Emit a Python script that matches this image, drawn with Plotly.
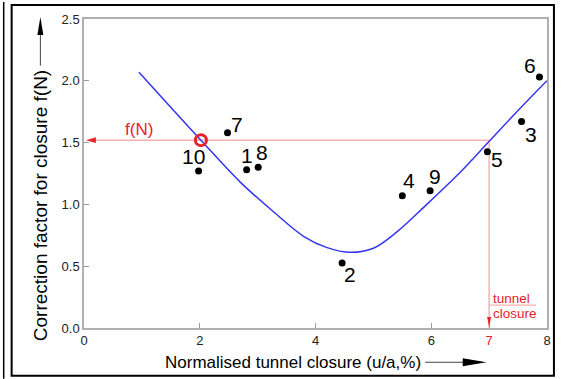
import plotly.graph_objects as go

# ---- data ----
point_ids = ["1", "2", "3", "4", "5", "6", "7", "8", "9", "10"]
point_x = [2.81, 4.46, 7.56, 5.50, 6.97, 7.87, 2.48, 3.01, 5.98, 1.98]
point_y = [1.28, 0.525, 1.67, 1.07, 1.425, 2.03, 1.58, 1.30, 1.11, 1.27]

curve_x = [0.95, 2.0, 2.7, 3.3, 3.8, 4.2, 4.6, 5.0, 5.4, 5.9, 6.5, 7.0, 7.5, 8.0]
curve_y = [2.07, 1.53, 1.18, 0.93, 0.74, 0.65, 0.612, 0.645, 0.775, 0.99, 1.26, 1.51, 1.76, 2.0]

closure_value = 7.0
fN_value = 1.52
fN_marker_x = 2.02

x_tickvals = [0, 2, 4, 6, 7, 8]
x_ticktext = ["0", "2", "4", "6", '<span style="color:#e8222a">7</span>', "8"]
y_tickvals = [0, 0.5, 1.0, 1.5, 2.0, 2.5]

# label offsets in pixels (dx right, dy down)
label_offsets = {
    "1": (0, -14), "2": (8, 11), "3": (9, 13), "4": (7, -15), "5": (10, 8),
    "6": (-9, -12), "7": (9, -8), "8": (4, -15), "9": (5, -14), "10": (-5, -15),
}

W, H = 563, 379
L, R, T, B = 84, 12, 17, 51
PW, PH = W - L - R, H - T - B
XR = (0, 8)
YR = (0, 2.5)


def px(x):  # pixel x -> paper
    return (x - L) / PW


def py(y):  # pixel y -> paper
    return (H - B - y) / PH


def dx(v):  # data x -> pixel x
    return L + (v - XR[0]) / (XR[1] - XR[0]) * PW


def dy(v):  # data y -> pixel y
    return H - B - (v - YR[0]) / (YR[1] - YR[0]) * PH


FONT = "Liberation Sans, Arial, sans-serif"
RED = "#e8222a"
PINK = "#ffb0b0"

fig = go.Figure()

fig.add_trace(go.Scatter(
    x=curve_x, y=curve_y, mode="lines", line=dict(color="#3535f0", width=1.5, shape="spline", smoothing=1.0),
    hoverinfo="skip", showlegend=False))

fig.add_trace(go.Scatter(
    x=point_x, y=point_y, mode="markers", marker=dict(color="black", size=7),
    showlegend=False))

fig.add_trace(go.Scatter(
    x=[fN_marker_x], y=[fN_value], mode="markers",
    marker=dict(symbol="circle-open", color=RED, size=11, line=dict(width=3, color=RED)),
    showlegend=False))

shapes = []
# outer border
shapes.append(dict(type="rect", xref="paper", yref="paper", x0=px(11), x1=px(558), y0=py(376), y1=py(3),
                   line=dict(color="black", width=2), layer="above"))
# left partial panel edge
shapes.append(dict(type="line", xref="paper", yref="paper", x0=px(3), x1=px(3), y0=py(379), y1=py(0),
                   line=dict(color="black", width=1.5)))
# f(N) horizontal line
shapes.append(dict(type="line", xref="x", yref="y", x0=(95 - L) / PW * 8, x1=closure_value, y0=fN_value, y1=fN_value,
                   line=dict(color=PINK, width=1.5), layer="below"))
# left arrow head
ypf = dy(fN_value)
shapes.append(dict(type="path", xref="paper", yref="paper",
                   path=f"M {px(86)} {py(ypf)} L {px(96)} {py(ypf-2.8)} L {px(96)} {py(ypf+2.8)} Z",
                   fillcolor=RED, line=dict(width=0)))
# vertical closure line
shapes.append(dict(type="line", xref="x", yref="y", x0=closure_value, x1=closure_value, y0=0, y1=fN_value,
                   line=dict(color=PINK, width=1.5), layer="below"))
xpc = dx(closure_value)
shapes.append(dict(type="path", xref="paper", yref="paper",
                   path=f"M {px(xpc)} {py(327)} L {px(xpc-2)} {py(317)} L {px(xpc+2)} {py(317)} Z",
                   fillcolor=RED, line=dict(width=0)))
# separator line between 'tunnel' and 'closure'
shapes.append(dict(type="line", xref="paper", yref="paper", x0=px(xpc), x1=px(540), y0=py(305), y1=py(305),
                   line=dict(color=PINK, width=1.2)))
# y title arrow
shapes.append(dict(type="line", xref="paper", yref="paper", x0=px(40), x1=px(40), y0=py(64), y1=py(32),
                   line=dict(color="#444", width=1)))
shapes.append(dict(type="path", xref="paper", yref="paper",
                   path=f"M {px(40)} {py(15)} L {px(37)} {py(33)} L {px(43)} {py(33)} Z",
                   fillcolor="black", line=dict(width=0)))
# x title arrow
shapes.append(dict(type="line", xref="paper", yref="paper", x0=px(428), x1=px(467), y0=py(362.5), y1=py(362.5),
                   line=dict(color="#444", width=1)))
shapes.append(dict(type="path", xref="paper", yref="paper",
                   path=f"M {px(490)} {py(362.5)} L {px(466)} {py(358.5)} L {px(466)} {py(366.5)} Z",
                   fillcolor="black", line=dict(width=0)))

annotations = []
for pid, x, y in zip(point_ids, point_x, point_y):
    ox, oy = label_offsets[pid]
    annotations.append(dict(x=x, y=y, xref="x", yref="y", text=pid, showarrow=False,
                            xanchor="center", yanchor="middle",
                            xshift=ox, yshift=-oy, font=dict(family=FONT, size=21, color="black")))


def txt(xp, yp, text, size, color, **kw):
    d = dict(x=px(xp), y=py(yp), xref="paper", yref="paper", text=text, showarrow=False,
             xanchor="center", yanchor="middle", font=dict(family=FONT, size=size, color=color))
    d.update(kw)
    annotations.append(d)


txt(40, 205, "Correction factor for closure f(N)", 19, "black", textangle=-90)
txt(295, 363, "Normalised tunnel closure (u/a,%)", 17, "black")
txt(139, 128, "f(N)", 17, RED)
txt(495, 298, "tunnel", 13.5, RED, xanchor="left")
txt(495, 313.5, "closure", 13.5, RED, xanchor="left")

fig.update_layout(
    width=W, height=H, margin=dict(l=L, r=R, t=T, b=B),
    paper_bgcolor="white", plot_bgcolor="white",
    shapes=shapes, annotations=annotations,
    font=dict(family=FONT, size=12, color="#222"),
    xaxis=dict(range=list(XR), tickvals=x_tickvals, ticktext=x_ticktext, ticks="inside", ticklen=5,
               tickcolor="#999", showgrid=False, zeroline=False, showline=True, linecolor="#b0b0b0",
               linewidth=1.5, mirror=True, tickfont=dict(size=13, color="#222")),
    yaxis=dict(range=list(YR), tickvals=y_tickvals, tickformat=".1f", ticks="inside", ticklen=5,
               tickcolor="#999", showgrid=False, zeroline=False, showline=True, linecolor="#b0b0b0",
               linewidth=1.5, mirror=True, tickfont=dict(size=13, color="#222")),
)

fig.write_html("out.html")
